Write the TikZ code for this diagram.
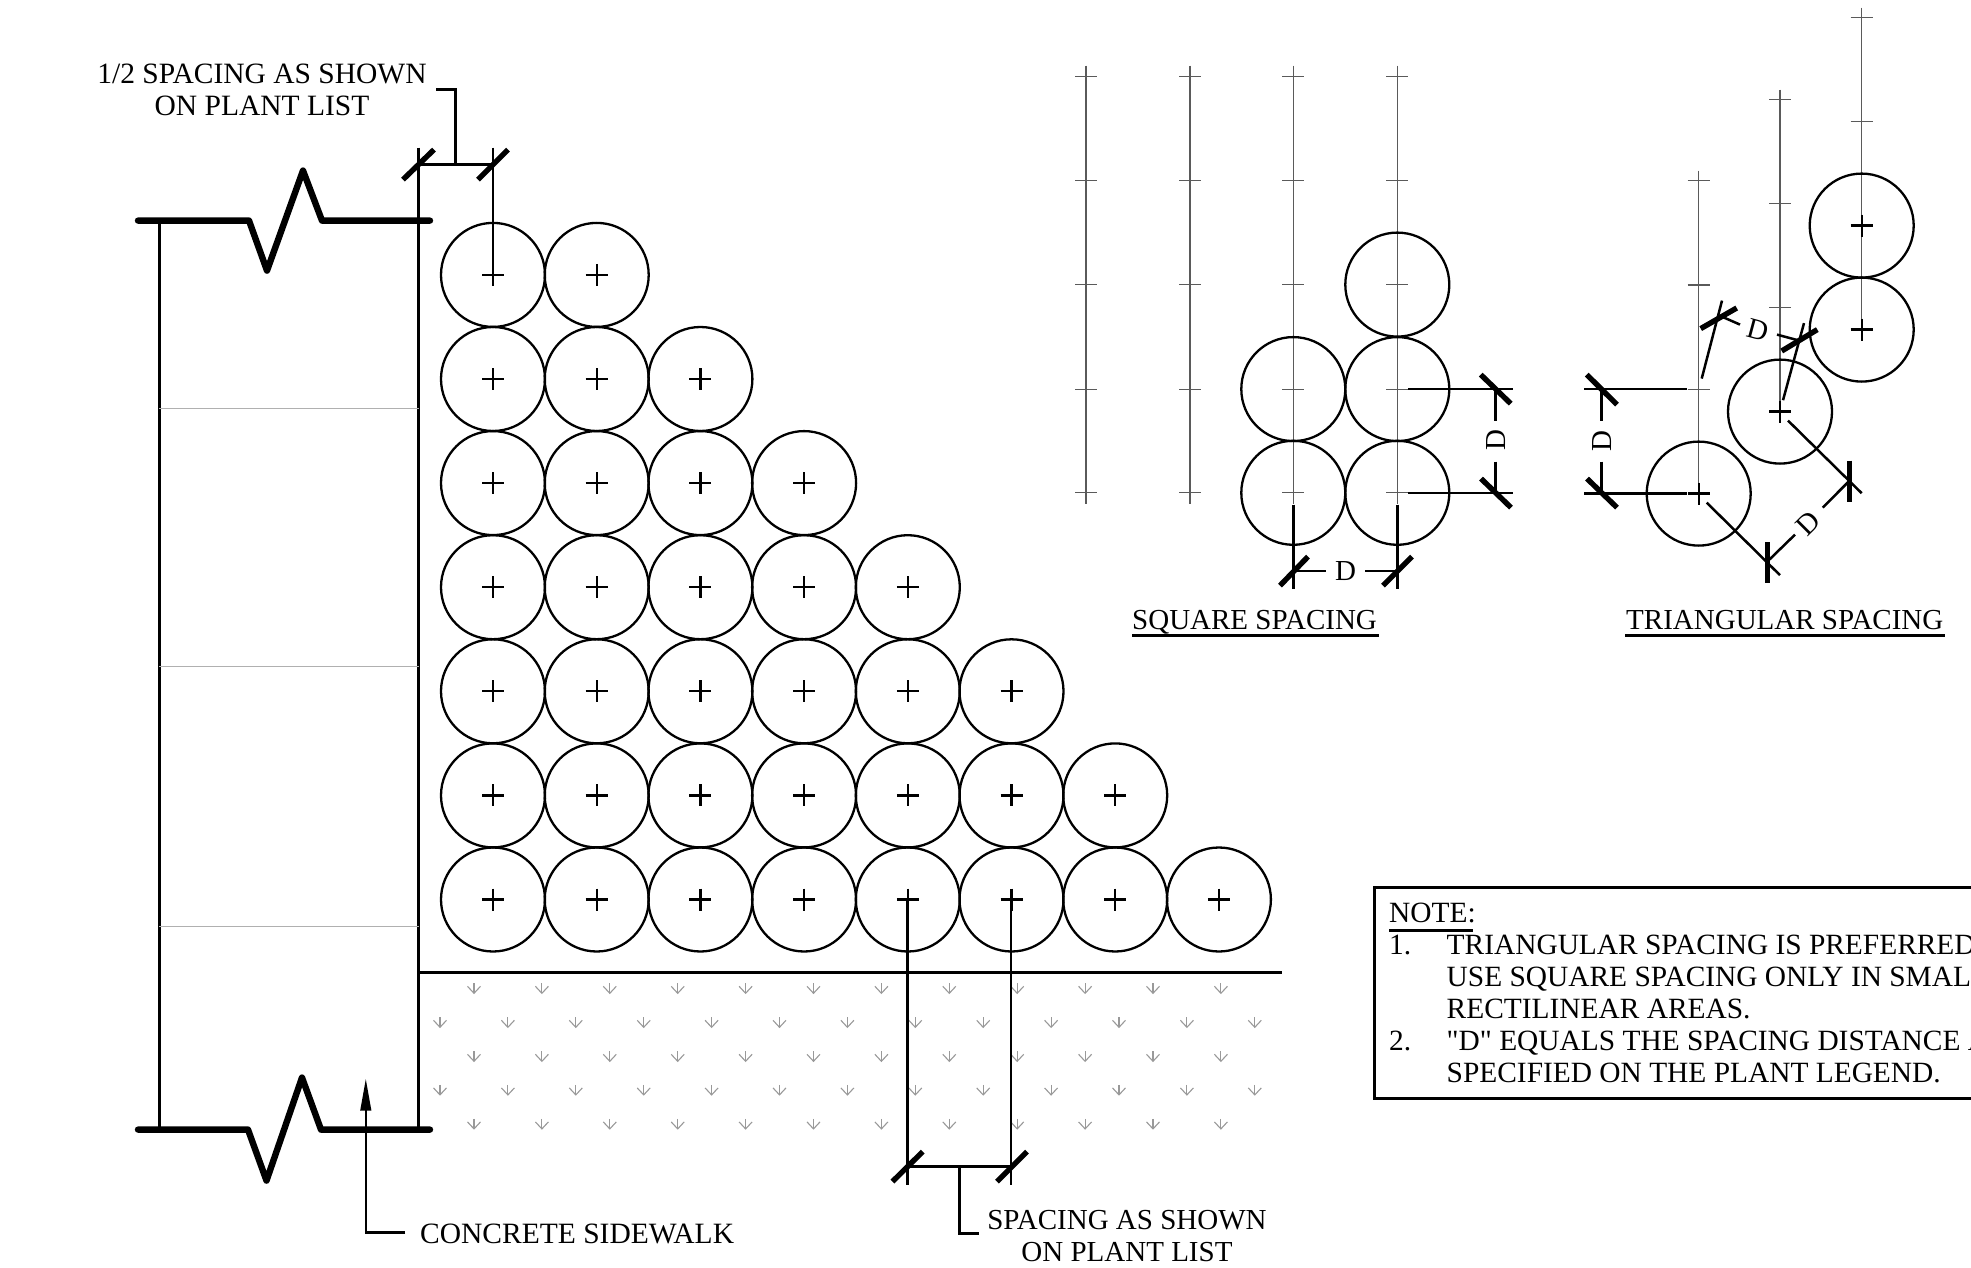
\documentclass[tikz,border=0pt]{standalone}
\usepackage{fontspec}
\setmainfont{Liberation Serif}
\newfontfamily\straightfont{Liberation Serif}
\usetikzlibrary{arrows.meta}
\definecolor{planBlack}{HTML}{000000}
\definecolor{planGray}{HTML}{5A5A5A}
\definecolor{joinGray}{HTML}{B0B0B0}
\definecolor{soilGray}{HTML}{999999}
\tikzset{
    plant/.style={
        draw=planBlack,
        line width=2.3pt
    },
    breakline/.style={
        draw=planBlack,
        line width=6.4pt,
        line cap=round,
        line join=round
    },
    edge/.style={
        draw=planBlack,
        line width=2.5pt
    },
    tick/.style={
        draw=planBlack,
        line width=5.4pt
    },
    grid/.style={
        draw=planGray,
        line width=1.1pt
    },
    soil/.style={
        draw=soilGray,
        line width=1.1pt
    },
    caption/.style={
        font=\fontsize{29}{32}\selectfont,
        inner sep=0pt,
        anchor=base west
    },
    notetext/.style={
        font=\fontsize{29.4}{32}\selectfont,
        inner sep=0pt,
        anchor=base west
    },
    callout/.style={
        font=\fontsize{29}{32}\selectfont,
        inner sep=0pt,
        align=center
    },
    dimtext/.style={
        font=\fontsize{29}{32}\selectfont,
        inner sep=0pt
    }
}

\begin{document}
\begin{tikzpicture}[x=1pt,y=-1pt]
    \useasboundingbox (0,0) rectangle (1971,1268);
    \clip (0,0) rectangle (1971,1268);

    \begin{scope}[yshift=-0.6pt]
    % Sidewalk
    \draw[edge] (159.3,220) -- (159.3,1129);
    \draw[edge] (418.7,147) -- (418.7,1129);
    \draw[breakline] (138,220) -- (249,220) -- (267,270) -- (303,170) -- (322,220) -- (430,220);
    \draw[breakline] (138,1129) -- (248,1129) -- (266.5,1180) -- (302,1077) -- (321,1129) -- (430,1129);
    \foreach \y in {407.5,666,926} {
        \draw[draw=joinGray, line width=1.1pt] (159.3,\y) -- (418.7,\y);
    }

    % Plants
    \foreach \row [evaluate=\row as \last using int(\row+1)] in {1,...,7} {
        \foreach \col in {1,...,\last} {
            \draw[plant] ({493+(\col-1)*103.7},{274.3+(\row-1)*104.1}) circle (52pt);
            \draw[plant] ({493+(\col-1)*103.7-11},{274.3+(\row-1)*104.1}) -- ++(22,0);
            \draw[plant] ({493+(\col-1)*103.7},{274.3+(\row-1)*104.1-11}) -- ++(0,22);
        }
    }

    % Ground and soil
    \draw[edge] (418.7,972) -- (1282,972);
    \foreach \y in {987.7,1055.7,1123.3} {
        \foreach \i in {0,...,11} {
            \draw[soil] ({474+\i*67.9},\y-5) -- ++(0,10);
            \draw[soil] ({474+\i*67.9-6.5},\y-2) -- ++(6.5,7) -- ++(6.5,-7);
        }
    }
    \foreach \y in {1021.7,1089.3} {
        \foreach \i in {0,...,12} {
            \draw[soil] ({440+\i*67.9},\y-5) -- ++(0,10);
            \draw[soil] ({440+\i*67.9-6.5},\y-2) -- ++(6.5,7) -- ++(6.5,-7);
        }
    }

    % Half spacing dimension
    \draw[edge] (493,147) -- (493,285);
    \draw[edge] (418.7,164) -- (493,164);
    \draw[tick] (403,179) -- (434,149);
    \draw[tick] (478,179) -- (508,149);
    \draw[edge] (455.7,164) -- (455.7,89) -- (435.7,89);
    \node[callout, font=\fontsize{29.5}{32}\selectfont] (halfText) at (262,89) {1/2 SPACING AS SHOWN\\ON PLANT LIST};

    % Sidewalk leader
    \draw[edge, -{Triangle[length=32pt,width=10.5pt]}] (405,1232) -- (365.8,1232) -- (365.8,1078);
    \node[caption, font=\fontsize{29.5}{32}\selectfont] (walkText) at (420,1243) {CONCRETE SIDEWALK};

    % Spacing dimension
    \draw[edge] (907.6,899) -- (907.6,1184);
    \draw[edge] (1011,899) -- (1011,1184);
    \draw[edge] (907.6,1166) -- (1011,1166);
    \draw[tick] (892.4,1181) -- (922.8,1151);
    \draw[tick] (997,1181) -- (1027,1151);
    \draw[edge] (959.4,1166) -- (959.4,1233) -- (979,1233);
    \node[callout] (spacingText) at (1127,1235) {SPACING AS SHOWN\\ON PLANT LIST};

    % Square spacing
    \foreach \x in {1086,1190,1293.3,1397.3} {
        \draw[grid] (\x,65) -- (\x,503);
        \foreach \y in {75.8,180.3,284,388.5,492.2} {
            \draw[grid] (\x-11,\y) -- ++(22,0);
        }
    }
    \foreach \x/\y in {1397.3/284,1293.3/388.5,1397.3/388.5,1293.3/492.2,1397.3/492.2} {
        \draw[plant] (\x,\y) circle (52pt);
    }
    \draw[edge] (1293.3,504) -- (1293.3,588);
    \draw[edge] (1397.3,504) -- (1397.3,588);
    \draw[edge] (1293.3,570.5) -- (1326,570.5);
    \draw[edge] (1365,570.5) -- (1397.3,570.5);
    \draw[tick] (1280,585) -- (1308,556);
    \draw[tick] (1383,585) -- (1412,556);
    \node[dimtext] (squareD) at (1345.7,570.5) {D};
    \draw[edge] (1408,388.5) -- (1513,388.5);
    \draw[edge] (1408,492.2) -- (1513,492.2);
    \draw[edge] (1495.7,388.5) -- (1495.7,420);
    \draw[edge] (1495.7,461) -- (1495.7,492.2);
    \draw[tick] (1480.7,374) -- (1510.7,403);
    \draw[tick] (1481,478) -- (1511,507);
    \node[dimtext, rotate=90] (squareE) at (1496,439.5) {D};
    \node[caption] (squareText) at (1132,628.5) {SQUARE SPACING};
    \draw[edge] (1132,635) -- (1379,635);

    % Triangular spacing
    \foreach \x/\top/\low/\a/\b/\c/\d in {
        1698.7/170/503/180.3/284.4/388.5/493,
        1780/89/422/98.8/203/306.6/411,
        1861.7/7/340/17/121/225/329} {
        \draw[grid] (\x,\top) -- (\x,\low);
        \foreach \y in {\a,\b,\c,\d} {
            \draw[grid] (\x-11,\y) -- ++(22,0);
        }
    }
    \foreach \x/\y in {1698.7/493,1780/411,1861.7/225,1861.7/329} {
        \draw[plant] (\x,\y) circle (52pt);
        \draw[plant] (\x-11,\y) -- ++(22,0);
        \draw[plant] (\x,\y-11) -- ++(0,22);
    }
    \draw[edge] (1584,388.5) -- (1686.7,388.5);
    \draw[edge] (1584,493) -- (1687,493);
    \draw[edge] (1601.7,388.5) -- (1601.7,420);
    \draw[edge] (1601.7,461) -- (1601.7,493);
    \draw[tick] (1586.7,374) -- (1617,404);
    \draw[tick] (1587,478) -- (1617,507);
    \node[dimtext, rotate=90] (triLeftD) at (1602,440.5) {D};

    \draw[edge] (1706.7,502) -- (1780,574.6);
    \draw[edge] (1788,420) -- (1861.7,492.6);
    \draw[edge] (1767.7,560.6) -- (1795,534);
    \draw[edge] (1822.7,507) -- (1849.3,480.3);
    \draw[tick] (1767.7,541.8) -- (1767.7,582);
    \draw[tick] (1849.3,460) -- (1849.3,501);
    \node[dimtext, rotate=45] (triLowD) at (1808,523) {D};

    \draw[edge] (1701.7,378) -- (1722,300);
    \draw[edge] (1783,399.6) -- (1804,322.5);
    \draw[edge] (1719,314.8) -- (1740,324);
    \draw[edge] (1777,334) -- (1799.3,340);
    \draw[tick] (1700.7,328) -- (1736.7,307.4);
    \draw[tick] (1781.7,350.4) -- (1817.3,329);
    \node[dimtext, rotate=-15] (triUpD) at (1758,329) {D};

    \node[caption] (triText) at (1626,628.5) {TRIANGULAR SPACING};
    \draw[edge] (1625,635) -- (1945,635);

    % Note
    \draw[draw=planBlack, line width=3pt] (1374.4,886.5) rectangle (2000,1098);
    \node[notetext] (noteHead) at (1389,922) {NOTE:};
    \draw[edge] (1389,930) -- (1473,930);
    \node[notetext] (numOne) at (1389,954) {1.};
    \node[notetext] (numTwo) at (1389,1049.5) {2.};
    \node[notetext] (lineA) at (1446.5,954) {TRIANGULAR SPACING IS PREFERRED};
    \node[notetext] (lineB) at (1446.5,985.7) {USE SQUARE SPACING ONLY IN SMALL};
    \node[notetext] (lineC) at (1446.5,1018) {RECTILINEAR AREAS.};
    \node[notetext] (lineD) at (1446.5,1049.5) {{\straightfont"D"} EQUALS THE SPACING DISTANCE AS};
    \node[notetext] (lineE) at (1446.5,1082) {SPECIFIED ON THE PLANT LEGEND.};
    \end{scope}
\end{tikzpicture}
\end{document}
